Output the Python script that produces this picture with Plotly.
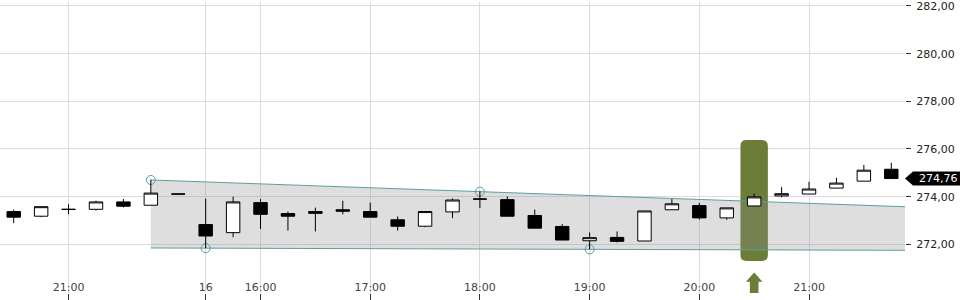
import numpy as np
import plotly.graph_objects as go

# ---- data ----
idx = list(range(33))
opens  = [273.375, 273.18, 273.46, 273.47, 273.78, 273.64, 274.11, 272.83, 272.49, 273.75, 273.29,
          273.375, 273.45, 273.375, 273.03, 272.76, 273.36, 273.90, 273.875, 273.21, 272.75, 272.15,
          272.29, 272.14, 273.45, 273.625, 273.11, 273.61, 274.03, 274.11, 274.36, 274.65, 275.15]
highs  = [273.46, 273.58, 273.68, 273.83, 273.90, 274.71, 274.12, 273.92, 274.00, 273.90, 273.375,
          273.54, 273.83, 273.75, 273.17, 273.40, 273.93, 274.22, 274.01, 273.46, 272.85, 272.50,
          272.54, 273.40, 273.90, 273.74, 273.53, 274.125, 274.40, 274.625, 274.79, 275.33, 275.42]
lows   = [272.89, 273.14, 273.26, 273.42, 273.55, 273.64, 274.10, 271.84, 272.30, 272.64, 272.58,
          272.54, 273.26, 273.14, 272.58, 272.72, 273.10, 273.53, 273.18, 272.68, 272.18, 271.79,
          272.08, 272.14, 273.45, 273.04, 273.03, 273.61, 273.97, 274.11, 274.36, 274.65, 274.76]
closes = [273.14, 273.58, 273.47, 273.78, 273.60, 274.15, 274.11, 272.35, 273.78, 273.26, 273.18,
          273.30, 273.39, 273.14, 272.76, 273.375, 273.86, 273.90, 273.18, 272.68, 272.18, 272.28,
          272.125, 273.40, 273.70, 273.11, 273.53, 273.99, 274.125, 274.32, 274.57, 275.11, 274.76]

tick_idx = [2, 7, 9, 13, 17, 21, 25, 29]
tick_text = ["21:00", "16", "16:00", "17:00", "18:00", "19:00", "20:00", "21:00"]

y_ticks = [270, 272, 274, 276, 278, 280, 282]

upper_anchor_x = [5, 17]
upper_anchor_y = [274.70, 274.21]
lower_anchor_x = [7, 21]
lower_anchor_y = [271.84, 271.79]
channel_start = 5

highlight_idx = 27
highlight_low = 271.30
highlight_high = 276.375

last_price = closes[-1]

# ---- layout constants ----
X_RANGE = [-0.5, 32.5]
Y_RANGE = [270 - 1 / 24, 282 + 4 / 24]
TEAL = "#5a9fa3"
GREEN = "#6b7d37"
FONT = dict(family="DejaVu Sans", size=11, color="#222222")
PX_X = 905 / 33.0   # pixels per index
PX_Y = 24.0         # pixels per price unit

def line_through(ax, ay, xs):
    m, b = np.polyfit(ax, ay, 1)
    return [m * x + b for x in xs]

ch_x = [channel_start, X_RANGE[1]]
up_y = line_through(upper_anchor_x, upper_anchor_y, ch_x)
lo_y = line_through(lower_anchor_x, lower_anchor_y, ch_x)

fig = go.Figure()

# channel (main subplot)
fig.add_trace(go.Scatter(x=ch_x, y=up_y, mode="lines", line=dict(color=TEAL, width=1),
                         hoverinfo="skip", showlegend=False))
fig.add_trace(go.Scatter(x=ch_x, y=lo_y, mode="lines", line=dict(color=TEAL, width=1),
                         fill="tonexty", fillcolor="rgba(141,141,141,0.29)",
                         hoverinfo="skip", showlegend=False))
fig.add_trace(go.Scatter(x=upper_anchor_x + lower_anchor_x, y=upper_anchor_y + lower_anchor_y,
                         mode="markers",
                         marker=dict(symbol="circle-open", size=9, color=TEAL, line=dict(width=1)),
                         hoverinfo="skip", showlegend=False))

# candles on overlaying axes so they sit above the channel
fig.add_trace(go.Candlestick(
    x=idx, open=opens, high=highs, low=lows, close=closes,
    xaxis="x2", yaxis="y2",
    increasing=dict(line=dict(color="black", width=1), fillcolor="white"),
    decreasing=dict(line=dict(color="black", width=1), fillcolor="black"),
    whiskerwidth=0, showlegend=False))

# highlight rounded rect
rx = 6 / PX_X
ry = 6 / PX_Y
x0, x1 = highlight_idx - 0.5, highlight_idx + 0.5
y0, y1 = highlight_low, highlight_high
path = (f"M {x0+rx},{y0} L {x1-rx},{y0} Q {x1},{y0} {x1},{y0+ry} L {x1},{y1-ry} "
        f"Q {x1},{y1} {x1-rx},{y1} L {x0+rx},{y1} Q {x0},{y1} {x0},{y1-ry} "
        f"L {x0},{y0+ry} Q {x0},{y0} {x0+rx},{y0} Z")
fig.add_shape(type="path", path=path, xref="x", yref="y", fillcolor=GREEN,
              line=dict(width=0), layer="between")

# arrow under the highlight
hw = 8.3 / PX_X
sw = 4.3 / PX_X
tip = 270 - (272.3 - 292) / PX_Y
base = 270 - (281.7 - 292) / PX_Y
bot = Y_RANGE[0]
c = highlight_idx
apath = (f"M {c},{tip} L {c+hw},{base} L {c+sw},{base} L {c+sw},{bot} "
         f"L {c-sw},{bot} L {c-sw},{base} L {c-hw},{base} Z")
fig.add_shape(type="path", path=apath, xref="x", yref="y", fillcolor=GREEN,
              line=dict(width=0), layer="above")

# last price tag
th = 7 / PX_Y
tx0 = 1.0
tx1 = 1 + 8 / 905
tx2 = 1 + 56 / 905
tpath = (f"M {tx0},{last_price} L {tx1},{last_price+th} L {tx2},{last_price+th} "
         f"L {tx2},{last_price-th} L {tx1},{last_price-th} Z")
fig.add_shape(type="path", path=tpath, xref="paper", yref="y", fillcolor="black",
              line=dict(width=0), layer="above")
fig.add_annotation(x=1 + 12 / 905, y=last_price, xref="paper", yref="y",
                   text=f"{last_price:.2f}".replace(".", ","), showarrow=False,
                   xanchor="left", yanchor="middle",
                   font=dict(family="DejaVu Sans", size=11, color="white"))

fig.update_layout(
    width=960, height=300,
    margin=dict(l=0, r=55, t=0, b=7),
    paper_bgcolor="white", plot_bgcolor="white",
    font=FONT,
    showlegend=False,
    xaxis=dict(range=X_RANGE, tickvals=tick_idx, ticktext=tick_text,
               showgrid=True, gridcolor="#dcdcdc", gridwidth=1,
               ticks="outside", ticklen=7, tickcolor="#333333",
               ticklabelposition="inside", ticklabelstandoff=-3,
               zeroline=False, showline=False,
               rangeslider=dict(visible=False), fixedrange=True),
    yaxis=dict(range=Y_RANGE, tickvals=y_ticks,
               ticktext=[f"{v:.2f}".replace(".", ",") for v in y_ticks],
               side="right", showgrid=True, gridcolor="#dcdcdc", gridwidth=1,
               ticks="outside", ticklen=5, tickcolor="#333333",
               ticklabelstandoff=3, ticklabeloverflow="allow",
               zeroline=False, showline=False, fixedrange=True),
    xaxis2=dict(range=X_RANGE, overlaying="x", visible=False, showgrid=False,
                rangeslider=dict(visible=False), fixedrange=True),
    yaxis2=dict(range=Y_RANGE, overlaying="y", visible=False, showgrid=False,
                fixedrange=True),
)

fig.write_html("out.html")
